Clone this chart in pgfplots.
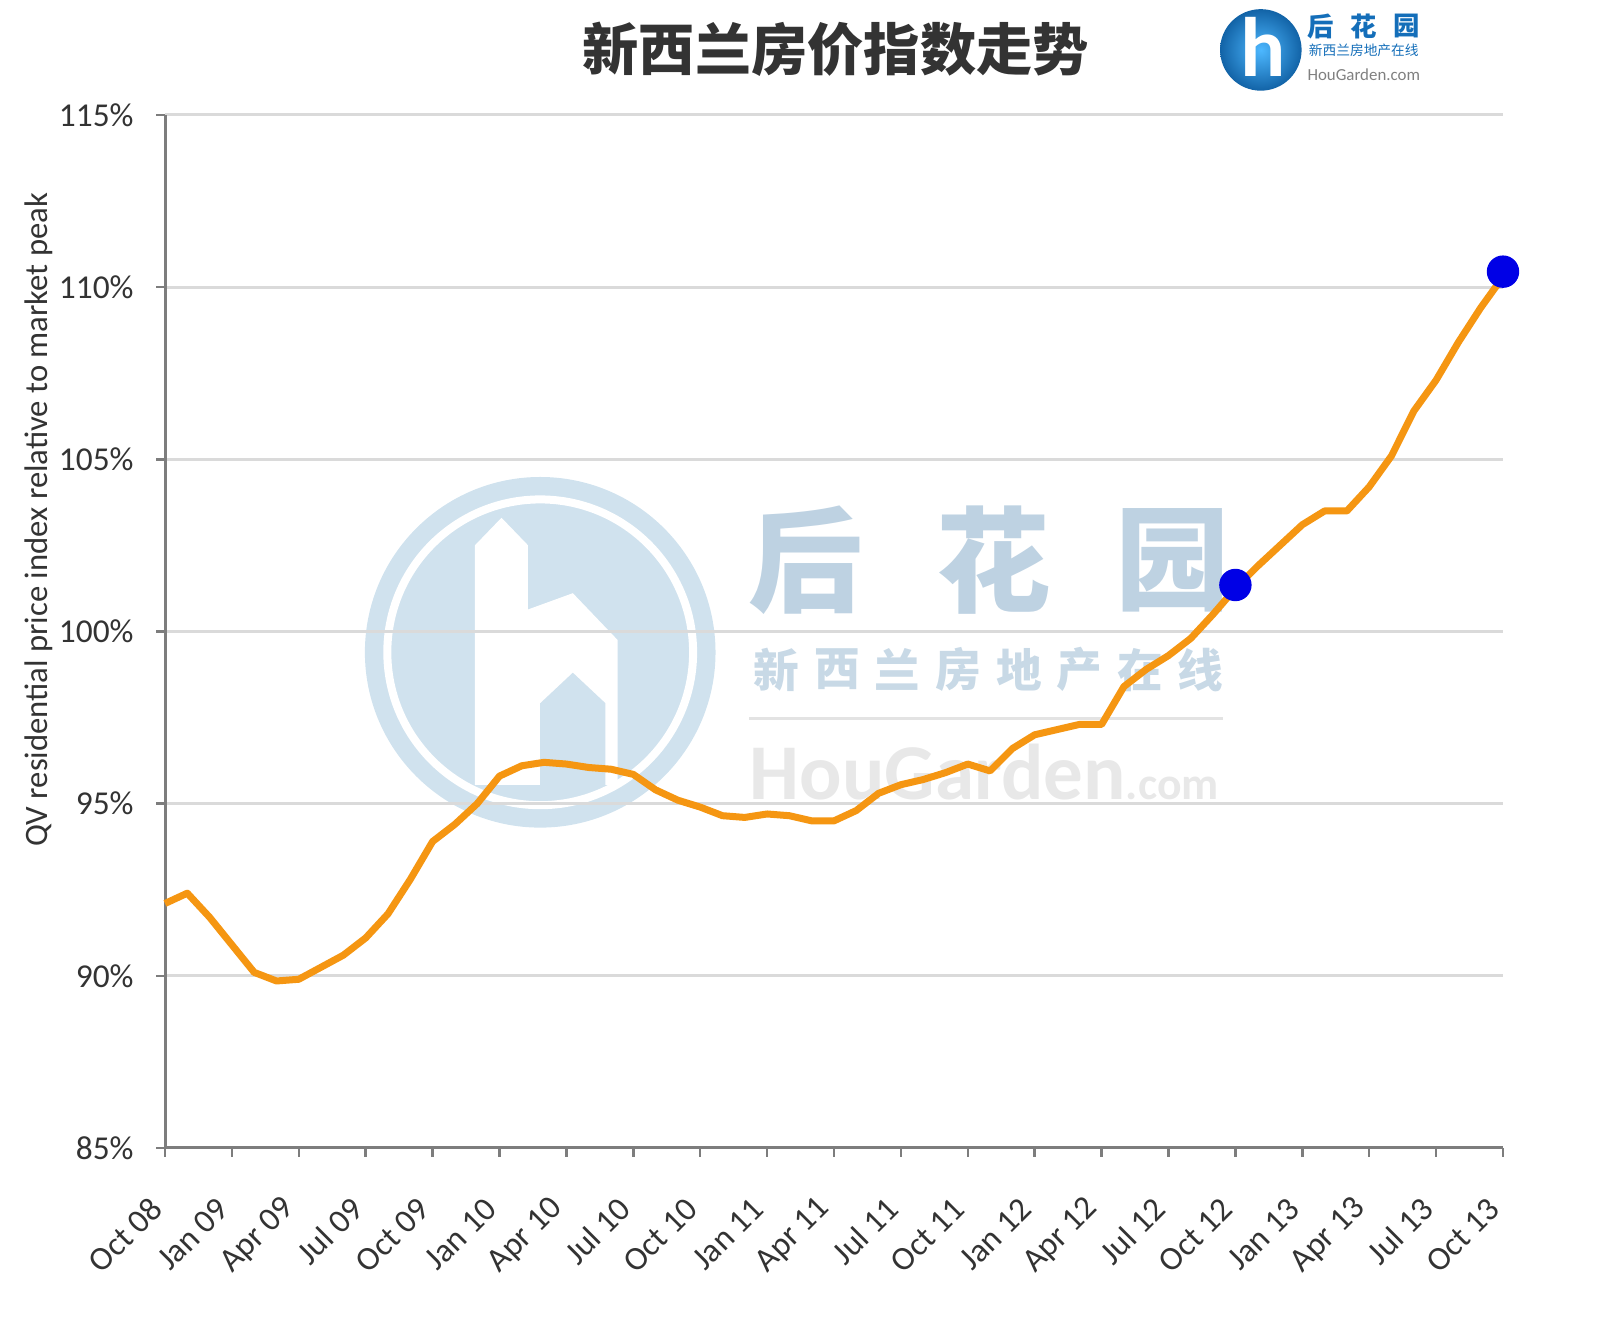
\documentclass[border=0pt]{standalone}
\usepackage{pgfplots}
\pgfplotsset{compat=1.18}
\usepackage{pgfplotstable}
\usepackage{fontspec}
\setmainfont{Carlito}
\newfontfamily\cjk{Noto Sans CJK SC}

\definecolor{lineorange}{RGB}{245,150,18}
\definecolor{dotblue}{RGB}{0,0,230}
\definecolor{axisgray}{RGB}{125,125,125}
\definecolor{gridgray}{RGB}{218,218,218}
\definecolor{wmblue}{RGB}{208,226,238}
\definecolor{wmtext}{RGB}{190,210,226}
\definecolor{logoblue}{RGB}{20,110,185}

% month index from Oct 08 (0) to Oct 13 (60), index in %
\pgfplotstableread{
m v
0 92.1
1 92.4
2 91.7
3 90.9
4 90.1
5 89.85
6 89.9
7 90.25
8 90.6
9 91.1
10 91.8
11 92.8
12 93.9
13 94.4
14 95.0
15 95.8
16 96.1
17 96.2
18 96.15
19 96.05
20 96.0
21 95.85
22 95.4
23 95.1
24 94.9
25 94.65
26 94.6
27 94.7
28 94.65
29 94.5
30 94.5
31 94.8
32 95.3
33 95.55
34 95.7
35 95.9
36 96.15
37 95.95
38 96.6
39 97.0
40 97.15
41 97.3
42 97.3
43 98.4
44 98.9
45 99.3
46 99.8
47 100.5
48 101.25
49 101.9
50 102.5
51 103.1
52 103.5
53 103.5
54 104.2
55 105.1
56 106.4
57 107.3
58 108.4
59 109.4
60 110.3
}\hpi

\begin{document}
\begin{tikzpicture}
\useasboundingbox (0,0) rectangle (15.99,13.29);

% watermark, positions measured from the top left
\begin{scope}[x=0.0102cm,y=-0.0102cm,shift={(0,13.29cm)}]
  \fill[wmblue] (530,640) circle (172);
  \draw[white,line width=0.08cm] (530,640) circle (150);
  \fill[white] (466,770) -- (466,535) -- (492,508) -- (518,535) -- (518,598)
    -- (562,582) -- (606,628) -- (606,770) -- cycle;
  \fill[wmblue] (530,770) -- (530,690) -- (562,660) -- (594,690) -- (594,770) -- cycle;
  \foreach \c/\x in {后/790,花/975,园/1150}
    \node[font=\cjk\bfseries\fontsize{32.5}{33}\selectfont,text=wmtext] at (\x,550) {\c};
  \foreach \c [count=\i from 0] in {新,西,兰,房,地,产,在,线}
    \node[font=\cjk\bfseries\fontsize{13}{13}\selectfont,text=wmtext!85] at ({762+\i*59.4},657) {\c};
  \draw[gray!22,line width=0.03cm] (735,705) -- (1200,705);
  \node[anchor=west,font=\bfseries\fontsize{22.5}{23}\selectfont,text=gray!18,inner sep=0]
    at (735,757) {HouGarden\fontsize{13}{13}\selectfont.com};
\end{scope}

\begin{axis}[
  at={(1.65cm,1.81cm)}, anchor=south west,
  scale only axis, width=13.38cm, height=10.33cm,
  xmin=0, xmax=60, ymin=85, ymax=115,
  axis x line*=bottom, axis y line*=left,
  axis line style={-,axisgray,line width=0.3mm},
  tick align=outside, major tick length=0.09cm,
  tick style={axisgray,line width=0.25mm},
  ymajorgrids, grid style={gridgray,line width=0.3mm},
  xtick={0,3,...,60},
  xticklabels={Oct 08,Jan 09,Apr 09,Jul 09,Oct 09,Jan 10,Apr 10,Jul 10,Oct 10,Jan 11,Apr 11,Jul 11,Oct 11,Jan 12,Apr 12,Jul 12,Oct 12,Jan 13,Apr 13,Jul 13,Oct 13},
  ytick={85,90,...,115},
  yticklabels={85\%,90\%,95\%,100\%,105\%,110\%,115\%},
  ticklabel style={font=\fontsize{9.5}{11}\selectfont,text=black!80},
  xticklabel style={rotate=45,anchor=east},
  xticklabel shift=3.8mm,
  yticklabel style={xshift=-1mm},
  clip=false,
]
\addplot[lineorange,line width=0.7mm,line join=round] table[x=m,y=v] {\hpi};
\addplot[only marks,mark=*,mark size=1.55mm,dotblue,mark options={fill=dotblue,draw=dotblue}]
  coordinates {(48,101.35) (60,110.45)};
\end{axis}

\begin{scope}[x=0.0102cm,y=-0.0102cm,shift={(0,13.29cm)}]
  \node[font=\cjk\bfseries\fontsize{16}{18}\selectfont,text=black!80] at (820,48) {新西兰房价指数走势};
  \node[rotate=90,font=\fontsize{9.3}{11}\selectfont,text=black!80] at (38,510)
    {QV residential price index relative to market peak};
  % logo
  \shade[inner color=cyan!60!blue!70,outer color=logoblue!90!black] (1237,49) circle (40);
  \node[font=\bfseries\fontsize{24}{24}\selectfont,text=white] at (1239,46) {h};
  \foreach \c/\x in {后/1296,花/1338,园/1380}
    \node[inner sep=0,font=\cjk\bfseries\fontsize{7.5}{8}\selectfont,text=logoblue] at (\x,26) {\c};
  \node[inner sep=0,font=\cjk\fontsize{3.9}{4}\selectfont,text=logoblue] at (1338,49) {新西兰房地产在线};
  \node[inner sep=0,font=\fontsize{4.8}{5}\selectfont,text=gray] at (1338,73) {HouGarden.com};
\end{scope}
\end{tikzpicture}
\end{document}
